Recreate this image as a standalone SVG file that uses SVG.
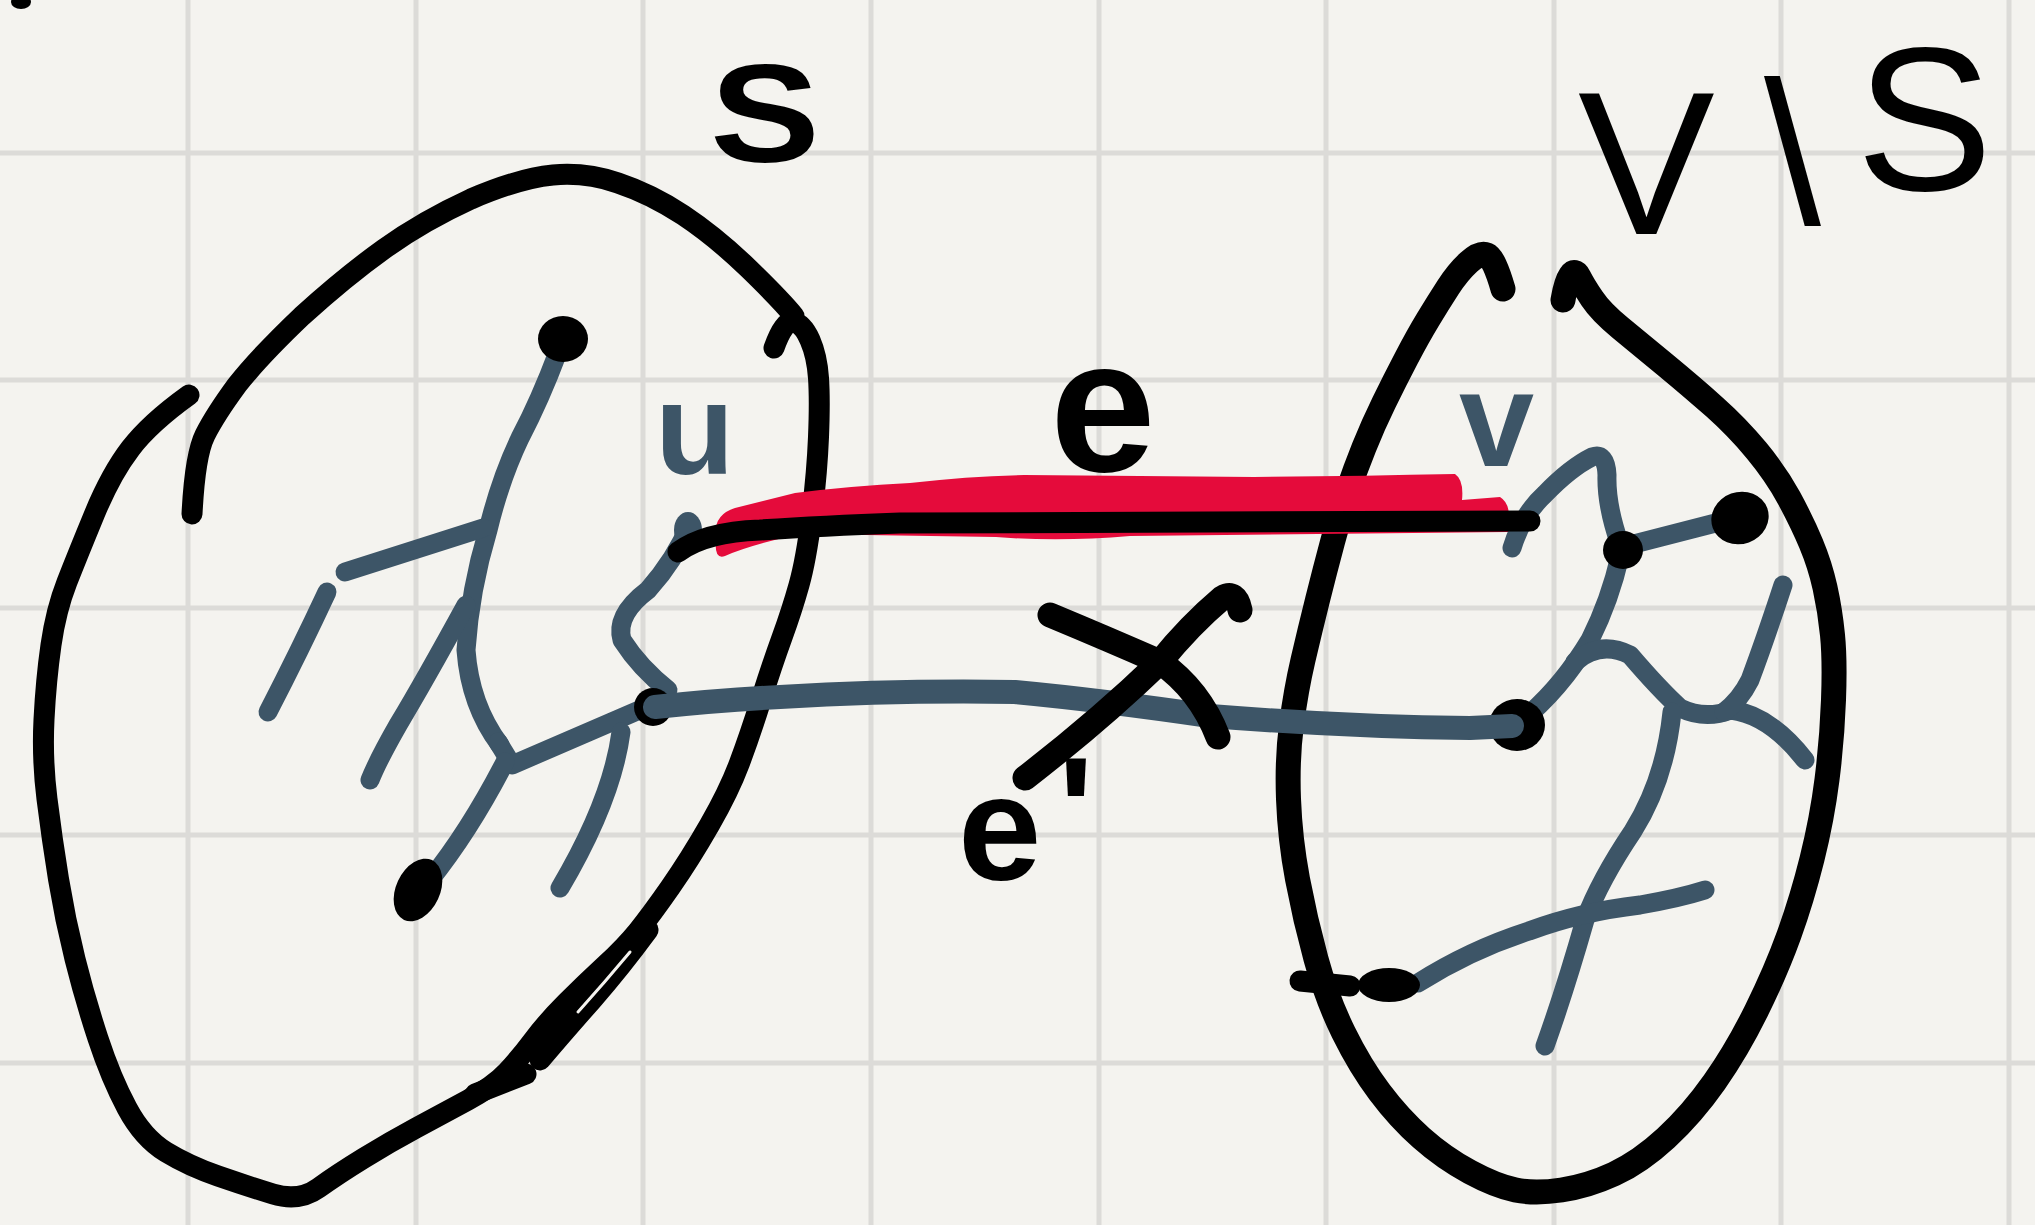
<svg xmlns="http://www.w3.org/2000/svg" width="2035" height="1225" viewBox="0 0 2035 1225">
<style>
.grid line{stroke:#dcdbd8;stroke-width:5}
.k{fill:none;stroke:#000;stroke-width:21;stroke-linecap:round;stroke-linejoin:round}
.kb{fill:none;stroke:#000;stroke-width:25;stroke-linecap:round;stroke-linejoin:round}
.b{fill:none;stroke:#3d5567;stroke-width:19;stroke-linecap:round;stroke-linejoin:round}
.be{fill:none;stroke:#3d5567;stroke-width:24;stroke-linecap:round;stroke-linejoin:round}
.dot{fill:#000}
.lbl{font-family:"Liberation Sans","DejaVu Sans",sans-serif;font-weight:bold;fill:#000}
.lbln{font-family:"Liberation Sans","DejaVu Sans",sans-serif;font-weight:normal;fill:#000}
.lblb{font-family:"Liberation Sans","DejaVu Sans",sans-serif;font-weight:bold;fill:#3d5567}
</style>
<rect width="2035" height="1225" fill="#f4f3ef"/>
<g class="grid">
<line x1="188" y1="0" x2="188" y2="1225"/><line x1="416" y1="0" x2="416" y2="1225"/><line x1="643" y1="0" x2="643" y2="1225"/><line x1="871" y1="0" x2="871" y2="1225"/><line x1="1099" y1="0" x2="1099" y2="1225"/><line x1="1326" y1="0" x2="1326" y2="1225"/><line x1="1554" y1="0" x2="1554" y2="1225"/><line x1="1781" y1="0" x2="1781" y2="1225"/><line x1="2009" y1="0" x2="2009" y2="1225"/>
<line x1="0" y1="153" x2="2035" y2="153"/><line x1="0" y1="380" x2="2035" y2="380"/><line x1="0" y1="608" x2="2035" y2="608"/><line x1="0" y1="835" x2="2035" y2="835"/><line x1="0" y1="1063" x2="2035" y2="1063"/>
</g>
<ellipse cx="21" cy="2" rx="10" ry="7" class="dot"/>

<g id="set-S">
<path class="k" d="M192,514 Q195,455 205,435 Q215,415 237,385 Q260,356 302,316 Q345,277 384,249 Q423,221 471,199 Q520,178 553,175 Q586,172 618,183 Q651,194 683,215 Q716,237 748,268 Q781,300 794,316"/>
<path class="k" d="M774,348 Q784,320 793.5,322 Q803,324 810,340 Q817,356 818.5,378 Q820,400 818.5,437 Q817,474 811.5,517 Q806,560 799,585 Q792,610 782,637.5 Q772,665 761,700 Q750,735 739.5,763 Q729,791 709.5,825 Q690,859 670.5,887 Q651,915 638,931 Q625,947 605.5,965 Q586,983 566.5,1002.5 Q547,1022 533.5,1040 Q520,1058 507,1072 Q494,1086 468,1100 Q442,1114 416,1128 Q390,1142 364,1158 Q338,1174 318.5,1188 Q299,1202 273,1194 Q247,1186 218,1176 Q189,1166 166,1152 Q143,1138 127,1108 Q111,1078 98,1038.5 Q85,999 75,959 Q65,919 58.5,879 Q52,839 47,799 Q42,759 44,719.5 Q46,680 51,645 Q56,610 67,582 Q78,554 94.5,514 Q111,474 130.5,448.5 Q150,423 189,395"/>
<path class="k" d="M648,930 Q620,968 592,1000 Q562,1034 540,1060"/>
<path d="M630,952 Q605,982 578,1012" fill="none" stroke="#f4f3ef" stroke-width="3" stroke-linecap="round"/>
<path class="k" d="M475,1094 L526,1074"/>
</g>

<g id="set-VS">
<path class="kb" d="M1503,289 Q1494,258 1487,255 Q1480,252 1469,262 Q1458,272 1448,287.5 Q1438,303 1428,319.5 Q1418,336 1406.5,358 Q1395,380 1384,402.5 Q1373,425 1364,447.5 Q1355,470 1347.5,492 Q1340,514 1332.5,542 Q1325,570 1317.5,600 Q1310,630 1303,660 Q1296,690 1291.5,724.5 Q1287,759 1288.5,799 Q1290,839 1297.5,879 Q1305,919 1316,959 Q1327,999 1343.5,1032.5 Q1360,1066 1379.5,1092 Q1399,1118 1421.5,1138 Q1444,1158 1470,1172 Q1496,1186 1515.5,1190 Q1535,1194 1561.5,1190 Q1588,1186 1614,1174 Q1640,1162 1666,1138 Q1692,1114 1714.5,1082 Q1737,1050 1756.5,1010.5 Q1776,971 1789,935 Q1802,899 1812,859 Q1822,819 1827,779.5 Q1832,740 1833.5,700 Q1835,660 1832.5,635 Q1830,610 1825,587.5 Q1820,565 1811,543.5 Q1802,522 1789,498 Q1776,474 1756.5,450.5 Q1737,427 1714.5,407 Q1692,387 1666,365.5 Q1640,344 1620.5,328 Q1601,312 1592,298.5 Q1583,285 1579,277 Q1575,269 1570.5,275.5 Q1566,282 1563,300"/>
</g>

<g id="tree-S">
<path class="b" d="M558,352 Q540,400 520,438 Q500,480 488,530 Q470,590 466,650 Q470,705 500,745"/>
<path class="b" d="M483,528 L345,572"/>
<path class="b" d="M327,592 Q300,650 268,712"/>
<path class="b" d="M466,605 Q425,680 398,725 Q378,760 370,780"/>
<path class="b" d="M498,742 L512,765 L651,705"/>
<path class="b" d="M505,762 Q470,830 430,880"/>
<path class="b" d="M621,732 Q612,800 560,888"/>
<path class="b" d="M690,524 Q675,560 648,590 Q615,615 622,640 Q640,668 668,690 L655,706"/>
</g>
<g id="node-s1"><ellipse cx="563" cy="339" rx="25" ry="23" class="dot"/></g>
<g id="node-s2"><ellipse cx="418" cy="890" rx="22" ry="33" transform="rotate(25 418 890)" class="dot"/></g>
<g id="node-u"><ellipse cx="688" cy="530" rx="14" ry="18" fill="#3d5567"/></g>
<g id="node-s3"><circle cx="653" cy="707" r="19" class="dot"/></g>

<g id="tree-VS">
<path class="b" d="M1512,548 Q1522,515 1545,494 Q1570,468 1592,457 Q1606,452 1607,475 Q1606,505 1620,545"/>
<path class="b" d="M1630,545 L1735,518"/>
<path class="b" d="M1620,556 Q1610,600 1590,640 Q1560,690 1520,722"/>
<path class="b" d="M1575,662 Q1600,640 1630,655 Q1660,690 1680,708 Q1705,720 1731,710 Q1770,715 1805,760"/>
<path class="b" d="M1783,585 Q1765,640 1750,680 Q1740,700 1724,712"/>
<path class="b" d="M1672,712 Q1665,780 1633,831 Q1600,880 1585,920 Q1565,990 1545,1046"/>
<path class="b" d="M1418,983 Q1470,950 1529,931 Q1580,912 1640,905 Q1680,898 1705,890"/>
</g>
<g id="node-t1"><ellipse cx="1623" cy="550" rx="20" ry="19" class="dot"/></g>
<g id="node-t2"><ellipse cx="1740" cy="518" rx="29" ry="26" transform="rotate(-20 1740 518)" class="dot"/></g>
<g id="node-t3"><ellipse cx="1517" cy="725" rx="28" ry="26" class="dot"/></g>
<g id="node-t4"><path class="k" d="M1300,981 L1350,986" stroke-width="18"/><ellipse cx="1389" cy="985" rx="31" ry="17" class="dot"/></g>

<g id="connectors">
<path d="M716,540 Q712,515 735,508 L795,493 Q850,486 910,483 Q970,476 1024,475 Q1140,476 1254,477 Q1360,476 1455,474 Q1464,480 1462,500 L1500,497 Q1510,503 1509,520 L1508,532 L1130,536 Q1060,542 996,537 L800,534 Q750,545 725,556 Q714,560 716,540 Z" fill="#e50b3b"/>
<path class="k" stroke-width="20" d="M678,552 Q705,532 760,530 Q820,526 900,523 L1530,521"/>
<path class="be" d="M655,707 Q720,700 780,697 Q900,690 1015,692 Q1100,700 1210,716 Q1350,727 1470,728 L1512,726"/>
<path class="kb" d="M1050,615 Q1110,640 1160,662 Q1200,690 1218,737"/>
<path class="kb" d="M1240,610 Q1236,590 1222,598 Q1190,625 1160,662 Q1100,720 1025,778"/>
</g>

<g id="labels">
<text class="lbl" x="710" y="162" font-size="140" textLength="110" lengthAdjust="spacingAndGlyphs">S</text>
<text class="lbln" font-size="205"><tspan x="1578" y="234">V</tspan><tspan x="1764" y="224">\</tspan><tspan x="1856" y="190">S</tspan></text>
<text class="lbl" x="1050" y="471" font-size="190">e</text>
<text class="lbl" x="958" y="880" font-size="150">e<tspan x="1058" y="862">'</tspan></text>
<text class="lblb" x="655" y="474" font-size="130">u</text>
<text class="lblb" x="1459" y="466" font-size="135">v</text>
</g>
</svg>
